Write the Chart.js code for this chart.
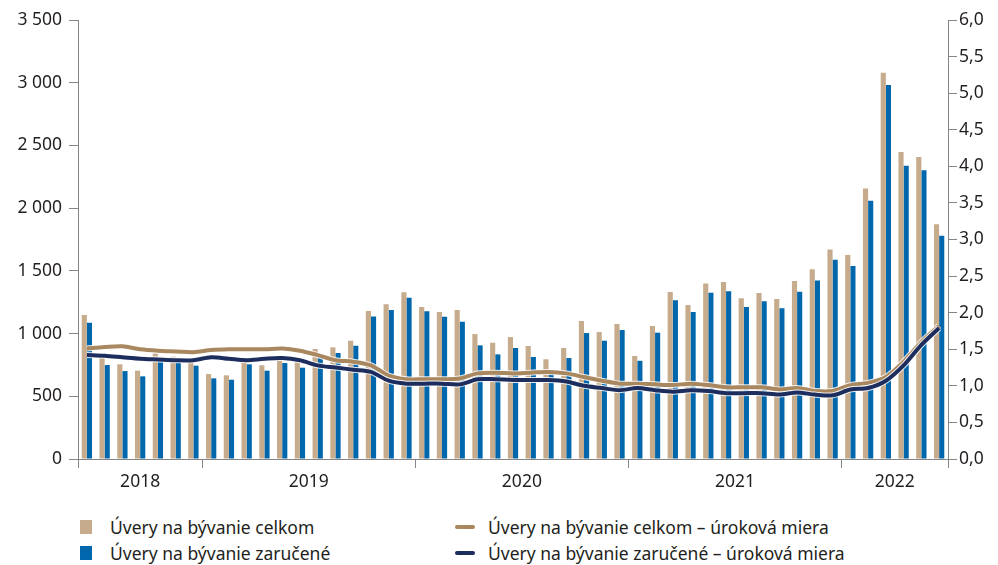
<!DOCTYPE html>
<html>
<head>
<meta charset="utf-8">
<script src="https://cdn.jsdelivr.net/npm/chart.js@4.4.1/dist/chart.umd.min.js"></script>
<style>
  html, body { margin: 0; padding: 0; background: #fff; }
  #wrap { position: relative; width: 998px; height: 565px; font-family: "Noto Sans", sans-serif; color: #231f20; }
  #chartBox { position: absolute; left: 0; top: 0; width: 998px; height: 500px; }
  #legend { position: absolute; left: 0; top: 514px; width: 998px; }
  .item { position: absolute; font-size: 17.5px; line-height: 26px; white-space: nowrap; }
  .box { position: absolute; left: 0; top: 6px; width: 12px; height: 14px; }
  .stroke { position: absolute; left: 0; top: 11px; width: 20px; height: 4px; border-radius: 2px; }
</style>
</head>
<body>
<div id="wrap">
  <div id="chartBox"><canvas id="loansChart"></canvas></div>
  <div id="legend"></div>
</div>
<script>
// months shown on the x axis (Jun 2018 - Jun 2022)
const months = [
  '2018-06', '2018-07', '2018-08', '2018-09', '2018-10', '2018-11', '2018-12',
  '2019-01', '2019-02', '2019-03', '2019-04', '2019-05', '2019-06', '2019-07', '2019-08', '2019-09', '2019-10', '2019-11', '2019-12',
  '2020-01', '2020-02', '2020-03', '2020-04', '2020-05', '2020-06', '2020-07', '2020-08', '2020-09', '2020-10', '2020-11', '2020-12',
  '2021-01', '2021-02', '2021-03', '2021-04', '2021-05', '2021-06', '2021-07', '2021-08', '2021-09', '2021-10', '2021-11', '2021-12',
  '2022-01', '2022-02', '2022-03', '2022-04', '2022-05', '2022-06'
];
const years = ['2018', '2019', '2020', '2021', '2022'];

// new housing loans (left axis)
const loansTotal = [
  1148, 805, 755, 704, 842, 815, 776,
  677, 667, 776, 747, 810, 773, 877, 890, 943, 1180, 1233, 1329,
  1211, 1172, 1188, 996, 927, 972, 901, 795, 885, 1100, 1012, 1076,
  821, 1060, 1331, 1227, 1400, 1411, 1281, 1323, 1275, 1419, 1512, 1671,
  1626, 2157, 3079, 2447, 2407, 1871
];
const loansGuaranteed = [
  1086, 749, 701, 659, 800, 795, 744,
  643, 632, 755, 704, 765, 728, 810, 845, 903, 1137, 1188, 1286,
  1177, 1134, 1094, 906, 834, 885, 813, 709, 805, 1004, 943, 1028,
  783, 1007, 1265, 1172, 1325, 1337, 1211, 1257, 1201, 1333, 1424, 1588,
  1538, 2059, 2981, 2338, 2303, 1780
];

// interest rates (right axis, %)
const rateTotal = [
  1.51, 1.53, 1.54, 1.50, 1.48, 1.47, 1.46,
  1.49, 1.50, 1.50, 1.50, 1.51, 1.48, 1.42, 1.35, 1.33, 1.28, 1.14, 1.09,
  1.09, 1.09, 1.10, 1.17, 1.18, 1.17, 1.18, 1.19, 1.17, 1.12, 1.07, 1.03,
  1.03, 1.02, 1.01, 1.03, 1.01, 0.98, 0.98, 0.98, 0.95, 0.97, 0.93, 0.93,
  1.01, 1.04, 1.12, 1.33, 1.60, 1.82
];
const rateGuaranteed = [
  1.42, 1.41, 1.39, 1.37, 1.36, 1.35, 1.35,
  1.39, 1.37, 1.35, 1.37, 1.38, 1.35, 1.28, 1.25, 1.22, 1.19, 1.07, 1.03,
  1.03, 1.03, 1.02, 1.09, 1.09, 1.08, 1.08, 1.08, 1.06, 1.00, 0.97, 0.94,
  0.97, 0.94, 0.92, 0.94, 0.93, 0.90, 0.90, 0.90, 0.88, 0.91, 0.88, 0.87,
  0.95, 0.97, 1.07, 1.28, 1.56, 1.79
];

const seriesNames = [
  'Úvery na bývanie celkom',
  'Úvery na bývanie zaručené',
  'Úvery na bývanie celkom – úroková miera',
  'Úvery na bývanie zaručené – úroková miera'
];

const colors = {
  barTotal: '#c6ac8c',
  barGuaranteed: '#0067ac',
  lineTotal: '#a9875f',
  lineGuaranteed: '#1c2d5e',
  axis: '#858585',
  text: '#231f20'
};

const tickFont = { family: 'Noto Sans', size: 17.5 };

// boundaries between years (and both ends) get a tick mark on the x axis
const yearStarts = years.map(y => months.findIndex(m => m.startsWith(y)));

// thin white outline under the rate lines
const lineHalo = {
  id: 'lineHalo',
  beforeDatasetDraw(chart, args) {
    const meta = args.meta;
    if (meta.type !== 'line') return;
    const line = meta.dataset;
    const halo = Object.create(line);
    halo.options = Object.assign({}, line.options, {
      borderColor: 'rgba(255,255,255,0.85)',
      borderWidth: line.options.borderWidth + 2
    });
    halo.draw(chart.ctx, chart.chartArea);
  }
};

// year labels centred under each year's months
const yearLabels = {
  id: 'yearLabels',
  afterDraw(chart) {
    const xScale = chart.scales.x;
    const ctx = chart.ctx;
    ctx.save();
    ctx.font = '17.5px "Noto Sans"';
    ctx.fillStyle = colors.text;
    ctx.textAlign = 'center';
    ctx.textBaseline = 'middle';
    years.forEach(y => {
      const idx = months.map((m, i) => m.startsWith(y) ? i : -1).filter(i => i >= 0);
      const a = xScale.getPixelForValue(idx[0]);
      const b = xScale.getPixelForValue(idx[idx.length - 1]);
      ctx.fillText(y, (a + b) / 2, chart.chartArea.bottom + 23);
    });
    ctx.restore();
  }
};

const ctx = document.getElementById('loansChart');

const chart = new Chart(ctx, {
  type: 'bar',
  data: {
    labels: months,
    datasets: [
      {
        type: 'line',
        label: seriesNames[3],
        data: rateGuaranteed,
        yAxisID: 'y1',
        borderColor: colors.lineGuaranteed,
        borderWidth: 4,
        pointRadius: 0,
        tension: 0.3,
        borderJoinStyle: 'round',
        order: 0
      },
      {
        type: 'line',
        label: seriesNames[2],
        data: rateTotal,
        yAxisID: 'y1',
        borderColor: colors.lineTotal,
        borderWidth: 4,
        pointRadius: 0,
        tension: 0.3,
        borderJoinStyle: 'round',
        order: 1
      },
      {
        label: seriesNames[0],
        data: loansTotal,
        backgroundColor: colors.barTotal,
        categoryPercentage: 0.58,
        barPercentage: 1,
        order: 2
      },
      {
        label: seriesNames[1],
        data: loansGuaranteed,
        backgroundColor: colors.barGuaranteed,
        categoryPercentage: 0.58,
        barPercentage: 1,
        order: 2
      }
    ]
  },
  options: {
    responsive: true,
    maintainAspectRatio: false,
    animation: false,
    layout: { padding: { top: 20, left: 0, right: 0, bottom: 0 } },
    plugins: {
      legend: { display: false },
      tooltip: { enabled: false }
    },
    scales: {
      x: {
        offset: true,
        grid: {
          offset: true,
          drawOnChartArea: false,
          tickLength: 9,
          color: c => (c.index === undefined || yearStarts.includes(c.index)) ? colors.axis : 'rgba(0,0,0,0)'
        },
        border: { color: colors.axis, width: 1 },
        ticks: { display: false },
        afterFit: s => { s.height = 41; }
      },
      y: {
        position: 'left',
        min: 0,
        max: 3500,
        ticks: {
          stepSize: 500,
          padding: 7,
          color: colors.text,
          font: tickFont,
          callback: v => String(v).replace(/\B(?=(\d{3})+(?!\d))/g, ' ')
        },
        grid: { drawOnChartArea: false, tickLength: 9, color: colors.axis },
        border: { color: colors.axis, width: 1 },
        afterFit: s => { s.width = 78; }
      },
      y1: {
        position: 'right',
        min: 0,
        max: 6,
        ticks: {
          stepSize: 0.5,
          padding: 2,
          color: colors.text,
          font: tickFont,
          callback: v => v.toFixed(1).replace('.', ',')
        },
        grid: { drawOnChartArea: false, tickLength: 9, color: colors.axis },
        border: { color: colors.axis, width: 1 },
        afterFit: s => { s.width = 50; }
      }
    }
  },
  plugins: [lineHalo, yearLabels]
});

// legend in two columns: bars left, rate lines right
const legendItems = [
  { text: seriesNames[0], color: colors.barTotal, kind: 'box', left: 80, top: 0 },
  { text: seriesNames[1], color: colors.barGuaranteed, kind: 'box', left: 80, top: 26 },
  { text: seriesNames[2], color: colors.lineTotal, kind: 'stroke', left: 455, top: 0 },
  { text: seriesNames[3], color: colors.lineGuaranteed, kind: 'stroke', left: 455, top: 26 }
];
const legendEl = document.getElementById('legend');
legendItems.forEach(it => {
  const div = document.createElement('div');
  div.className = 'item';
  div.style.left = it.left + 'px';
  div.style.top = it.top + 'px';
  div.style.paddingLeft = (it.kind === 'box' ? 30 : 33) + 'px';
  const mark = document.createElement('span');
  mark.className = it.kind;
  mark.style.background = it.color;
  div.appendChild(mark);
  div.appendChild(document.createTextNode(it.text));
  legendEl.appendChild(div);
});
</script>
</body>
</html>
